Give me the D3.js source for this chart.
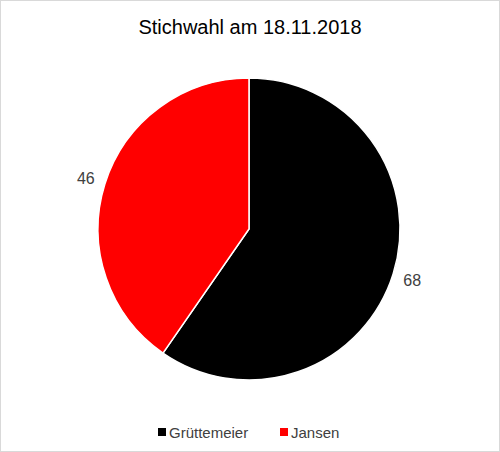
<!DOCTYPE html>
<html><head><meta charset="utf-8">
<script src="https://cdn.jsdelivr.net/npm/d3@7"></script>
<style>body{margin:0;background:#fff}</style></head>
<body><script>
const categories=["Grüttemeier","Jansen"];
const values=[68,46];
const colors=["#000000","#ff0000"];
const W=500,H=452;
const svg=d3.select("body").append("svg").attr("width",W).attr("height",H);
svg.append("rect").attr("x",0.5).attr("y",0.5).attr("width",W-1).attr("height",H-1).attr("fill","#fff").attr("stroke","#d9d9d9");
svg.append("text").attr("x",250).attr("y",34).attr("text-anchor","middle").attr("font-family","Liberation Sans, Arial").attr("font-size",20).text("Stichwahl am 18.11.2018");
const cx=249,cy=229,r=151;
const pie=d3.pie().sort(null)(values);
const arc=d3.arc().innerRadius(0).outerRadius(r);
const g=svg.append("g").attr("transform",`translate(${cx},${cy})`);
g.selectAll("path").data(pie).join("path").attr("d",arc).attr("fill",(d,i)=>colors[i]).attr("stroke","#fff").attr("stroke-width",1.5);
const la=d3.arc().innerRadius(r+20).outerRadius(r+20);
g.selectAll("text").data(pie).join("text").attr("transform",d=>`translate(${la.centroid(d)})`)
 .attr("text-anchor","middle").attr("dy","0.35em").attr("font-family","Liberation Sans, Arial").attr("font-size",16).attr("fill","#404040").text(d=>d.data);
const lg=svg.append("g").attr("font-family","Liberation Sans, Arial").attr("font-size",15).attr("fill","#404040");
const lx=[158,280];
categories.forEach((c,i)=>{
 lg.append("rect").attr("x",lx[i]).attr("y",428).attr("width",8).attr("height",8).attr("fill",colors[i]);
 lg.append("text").attr("x",lx[i]+11).attr("y",438).text(c);
});
</script></body></html>
